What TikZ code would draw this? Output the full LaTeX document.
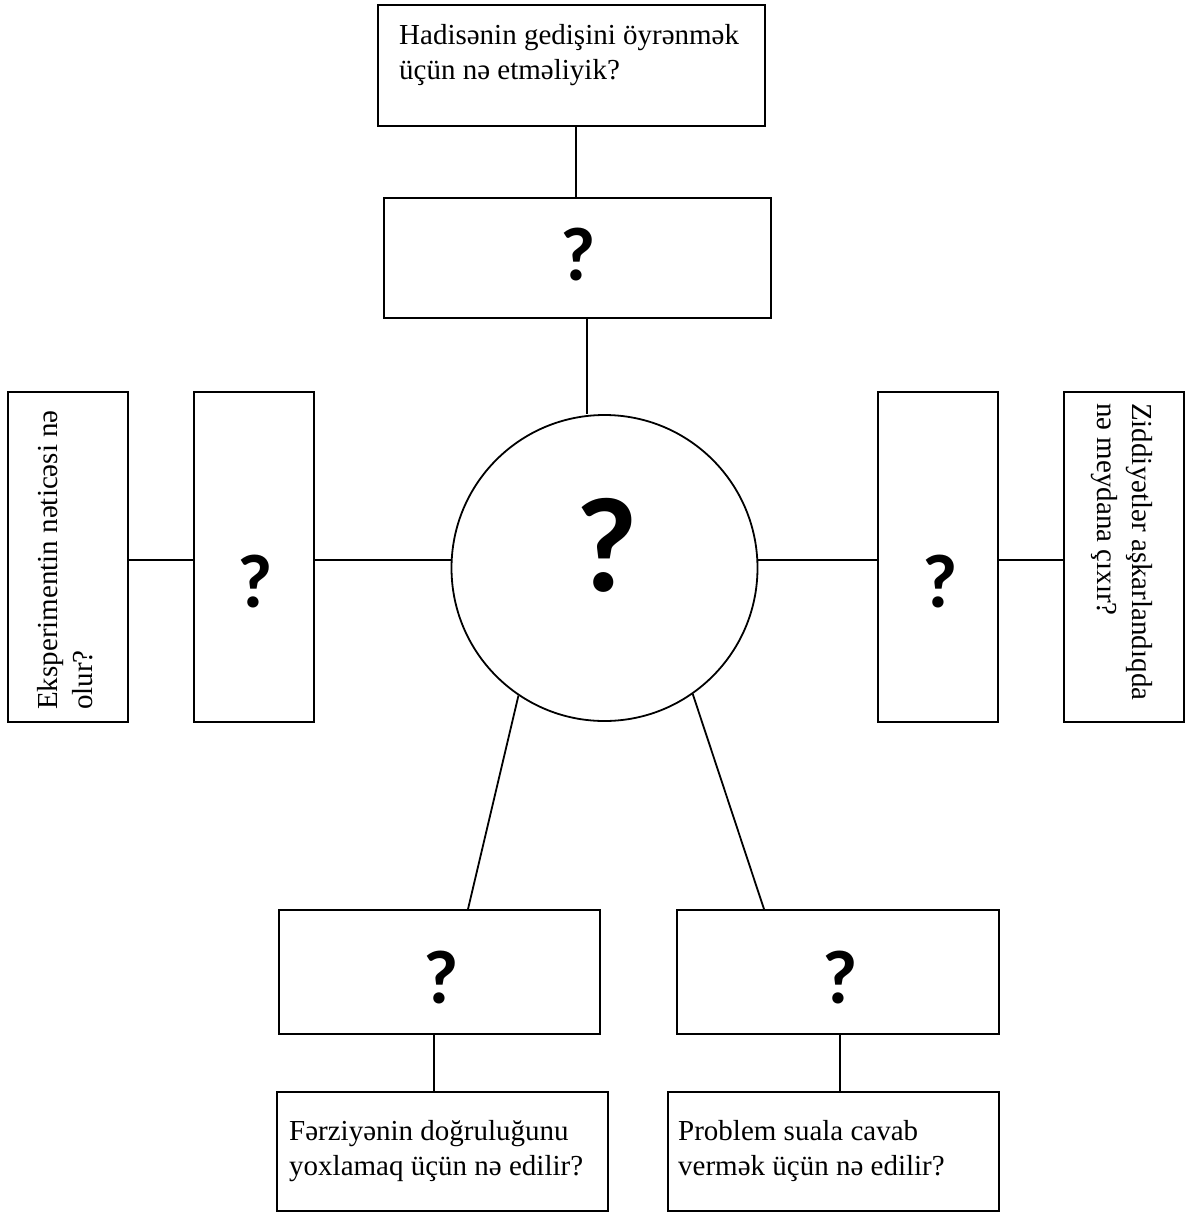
\documentclass[tikz,border=0pt]{standalone}
\usepackage{fontspec}
\setmainfont{Liberation Serif}
\newfontfamily\qfont{Carlito}
\tikzset{
  frame/.style={draw=black, line width=1.8pt, fill=white, inner sep=0pt, rectangle},
  link/.style={draw=black, line width=1.8pt},
  qtext/.style={inner sep=0pt, align=left, font=\fontsize{29}{35}\selectfont},
  qmark/.style={inner sep=0pt, font=\qfont\bfseries\fontsize{76}{80}\selectfont},
  bigmark/.style={inner sep=0pt, font=\qfont\bfseries\fontsize{135}{140}\selectfont}
}
\begin{document}
\begin{tikzpicture}[x=1pt, y=-1pt]
\useasboundingbox (0,0) rectangle (1186,1213);
% boxes
\node[frame, minimum width=387, minimum height=121] (topq) at (571.5,65.5) {};
\node[frame, minimum width=387, minimum height=120] (topbox) at (577.5,258) {};
\node[frame, circle, minimum size=306] (hub) at (604.5,568) {};
\node[frame, minimum width=120, minimum height=330] (leftq) at (68,557) {};
\node[frame, minimum width=120, minimum height=330] (leftbox) at (254,557) {};
\node[frame, minimum width=120, minimum height=330] (rightbox) at (938,557) {};
\node[frame, minimum width=120, minimum height=330] (rightq) at (1124,557) {};
\node[frame, minimum width=321, minimum height=124] (blbox) at (439.5,972) {};
\node[frame, minimum width=322, minimum height=124] (brbox) at (838,972) {};
\node[frame, minimum width=331, minimum height=119] (blq) at (442.5,1151.5) {};
\node[frame, minimum width=331, minimum height=119] (brq) at (833.5,1151.5) {};

% connectors
\draw[link] ([xshift=4.5pt]topq.south) -- ([xshift=-1.5pt]topbox.north);
\coordinate (tb) at ([xshift=9.5pt]topbox.south);
\draw[link] (tb) -- (tb |- hub.north);
\draw[link] ([yshift=-3pt]leftq.east) -- ([yshift=-3pt]leftbox.west);
\coordinate (lb) at ([yshift=-3pt]leftbox.east);
\draw[link] (lb) -- (lb -| hub.west);
\coordinate (rb) at ([yshift=-3pt]rightbox.west);
\draw[link] (rb) -- (rb -| hub.east);
\draw[link] ([yshift=-3pt]rightbox.east) -- ([yshift=-3pt]rightq.west);
\draw[link] (hub.236.2) -- ([xshift=28.5pt]blbox.north);
\draw[link] (hub.305.6) -- ([xshift=-74pt]brbox.north);
\draw[link] ([xshift=-5.5pt]blbox.south) -- ([xshift=-8.5pt]blq.north);
\draw[link] ([xshift=2pt]brbox.south) -- ([xshift=6.5pt]brq.north);

% question marks
\node[bigmark] (hubmark) at (606.5,545.5) {?};
\node[qmark] (topmark) at (578.5,254.5) {?};
\node[qmark] (leftmark) at (255,581.5) {?};
\node[qmark] (rightmark) at (940,581.5) {?};
\node[qmark] (blmark) at (441,977.5) {?};
\node[qmark] (brmark) at (840,977.5) {?};

% texts (anchored on the baseline of the last line)
\node[qtext, anchor=base west] (toptext) at (399,79) {Hadisənin gedişini öyrənmək\\üçün nə etməliyik?};
\node[qtext, anchor=base west, rotate=90] (lefttext) at (92,710) {Eksperimentin nəticəsi nə\\olur?};
\node[qtext, anchor=base west, rotate=-90] (righttext) at (1097,403) {Ziddiyətlər aşkarlandıqda\\nə meydana çıxır?};
\node[qtext, anchor=base west] (bltext) at (289,1175) {Fərziyənin doğruluğunu\\yoxlamaq üçün nə edilir?};
\node[qtext, anchor=base west] (brtext) at (678,1175) {Problem suala cavab\\vermək üçün nə edilir?};
\end{tikzpicture}
\end{document}
